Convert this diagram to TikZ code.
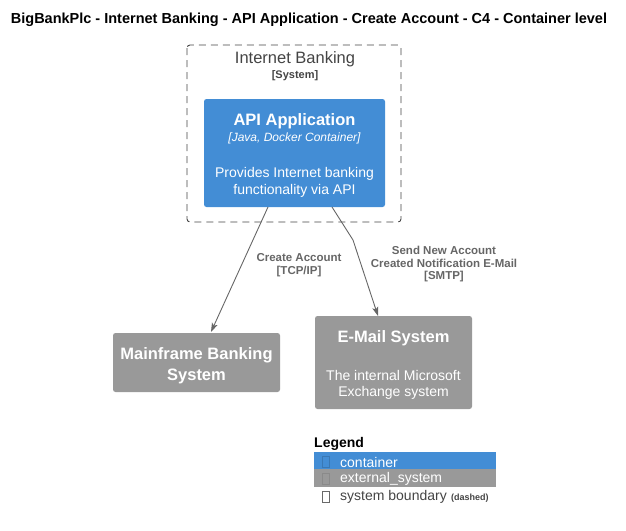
\documentclass[tikz,border=0pt]{standalone}
\usepackage{fontspec}
\setmainfont{Liberation Sans}
\usetikzlibrary{arrows.meta}
\definecolor{cblue}{HTML}{438DD5}
\definecolor{cgray}{HTML}{999999}
\definecolor{ctext}{HTML}{444444}
\definecolor{cline}{HTML}{666666}
\tikzset{
  fs/.style={font=\fontsize{#1}{#1}\selectfont},
  box/.style={rounded corners=2.5, draw=none},
  txt/.style={inner sep=0, anchor=center},
  rel/.style={draw=cline, line width=0.9, -{Stealth[length=9,width=6,inset=2]}},
  rellab/.style={txt, text=cline, font=\bfseries\fontsize{11.5}{11.5}\selectfont, align=center}
}
\begin{document}
\begin{tikzpicture}[x=1pt,y=-1pt]
\useasboundingbox (0,0) rectangle (626,530);
% title
\node[txt, font=\bfseries\fontsize{14.5}{14.5}\selectfont] (title) at (309,20) {BigBankPlc - Internet Banking - API Application - Create Account - C4 - Container level};
% system boundary
\draw[ctext, dashed, dash pattern=on 7 off 5, line width=0.9, rounded corners=3] (187,45) rectangle (401,222);
\node[txt, text=ctext, fs=16.5] (sysname) at (295,59.5) {Internet Banking};
\node[txt, text=ctext, font=\bfseries\fontsize{11}{11}\selectfont] (systype) at (295,76) {[System]};
% API application
\fill[cblue, box] (204,99) rectangle (385,207);
\node[txt, text=white, font=\bfseries\fontsize{16.5}{16.5}\selectfont] (apititle) at (294.5,121.5) {API Application};
\node[txt, text=white, font=\itshape\fontsize{12}{12}\selectfont] at (294.5,138.5) {[Java, Docker Container]};
\node[txt, text=white, fs=14] at (294.5,173.5) {Provides Internet banking};
\node[txt, text=white, fs=14] at (294.5,190.5) {functionality via API};
% Mainframe
\fill[cgray, box] (113,333) rectangle (280,392);
\node[txt, text=white, font=\bfseries\fontsize{16.5}{16.5}\selectfont] (mf) at (196.5,355.5) {Mainframe Banking};
\node[txt, text=white, font=\bfseries\fontsize{16.5}{16.5}\selectfont] at (196.5,376.5) {System};
% Email
\fill[cgray, box] (315,316) rectangle (472,409);
\node[txt, text=white, font=\bfseries\fontsize{16.5}{16.5}\selectfont] (mail) at (393.5,338.5) {E-Mail System};
\node[txt, text=white, fs=14] at (393.5,375.5) {The internal Microsoft};
\node[txt, text=white, fs=14] at (393.5,392.5) {Exchange system};
% connectors
\coordinate (a1s) at (268,207);
\coordinate (a1e) at (211,332);
\coordinate (a2s) at (332,207);
\coordinate (a2m) at (353,240);
\coordinate (a2e) at (378,316);
\draw[rel] (a1s) -- (a1e);
\draw[rel] (a2s) -- (a2m) -- (a2e);
\node[rellab] (l1) at (299,265) {Create Account\\[1pt][TCP/IP]};
\node[rellab] (l2) at (444,264.5) {Send New Account\\[1pt]Created Notification E-Mail\\[1pt][SMTP]};
% legend
\node[txt, anchor=west, font=\bfseries\fontsize{14}{14}\selectfont] (leg) at (314,444) {Legend};
\fill[cblue] (314,452) rectangle (496,469);
\fill[cgray] (314,469) rectangle (496,487);
\draw[cblue!85!black, line width=0.4] (322.5,456) rectangle (329.5,467);
\draw[cgray!90!black, line width=0.4] (322.5,473) rectangle (329.5,484);
\draw[ctext!80, line width=0.5] (322.5,491) rectangle (329.5,502);
\node[txt, anchor=west, text=white, fs=14] at (340,462) {container};
\node[txt, anchor=west, text=white, fs=14] at (340,479) {external\_system};
\node[txt, anchor=west, text=ctext, fs=14] (sb) at (340,497) {system boundary};
\node[txt, anchor=west, text=ctext, font=\bfseries\fontsize{9}{9}\selectfont] at ([xshift=4pt,yshift=-1.5pt]sb.east) {(dashed)};
\end{tikzpicture}
\end{document}
